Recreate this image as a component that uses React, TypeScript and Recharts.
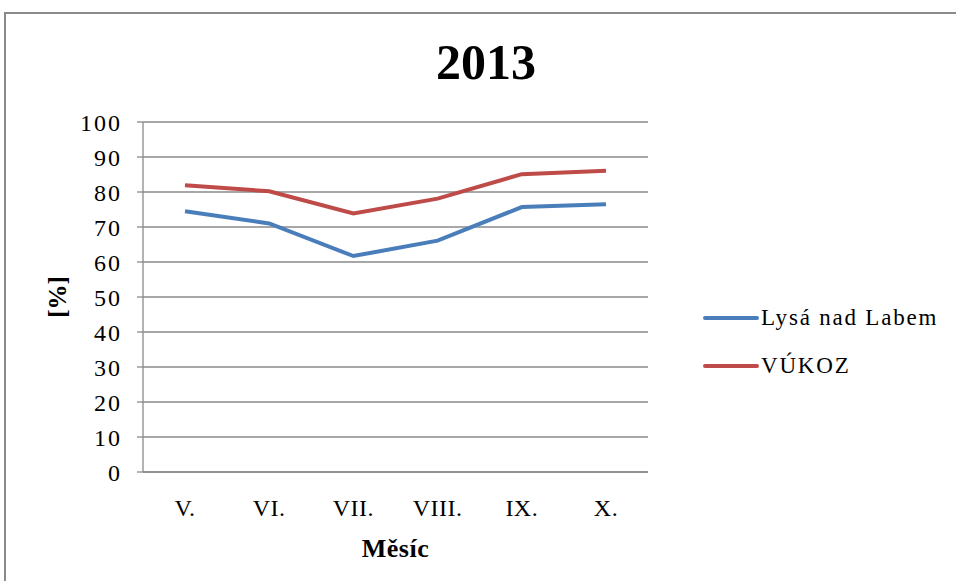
import { LineChart, Line, XAxis, YAxis, CartesianGrid, Label } from "recharts";

const months = ["V.", "VI.", "VII.", "VIII.", "IX.", "X."];
const lysa = [74.5, 71.0, 61.7, 66.1, 75.7, 76.5];
const vukoz = [81.9, 80.2, 73.9, 78.1, 85.1, 86.1];
const yTicks = [0, 10, 20, 30, 40, 50, 60, 70, 80, 90, 100];

const series = [
  { key: "lysa", name: "Lysá nad Labem", color: "#4A7EBB" },
  { key: "vukoz", name: "VÚKOZ", color: "#BE4B48" },
];

const data = months.map((m, i) => ({ month: m, lysa: lysa[i], vukoz: vukoz[i] }));

const FONT = "'Liberation Serif', 'Times New Roman', serif";

export default function App() {
  return (
    <div style={{ position: "absolute", left: 0, top: 0, width: 956, height: 581, background: "#fff", overflow: "hidden" }}>
      <div style={{ position: "absolute", left: 4, top: 12, width: 980, height: 600, border: "2px solid #8a8a8a", boxSizing: "border-box" }} />
      <div style={{ position: "absolute", left: 0, top: 30, width: 972, textAlign: "center", fontFamily: FONT, fontWeight: "bold", fontSize: 50, lineHeight: "64px" }}>
        2013
      </div>
      <LineChart width={956} height={581} data={data} margin={{ top: 122, right: 308, left: 83, bottom: 79 }} style={{ position: "absolute", left: 0, top: 0 }}>
        <CartesianGrid vertical={false} stroke="#8a8a8a" strokeWidth={1.3} />
        <XAxis
          dataKey="month"
          padding={{ left: 42, right: 42 }}
          tickLine={false}
          axisLine={{ stroke: "#8a8a8a", strokeWidth: 1.3 }}
          tick={{ fill: "#000", fontSize: 24, fontFamily: FONT, letterSpacing: 0.5 }}
          tickMargin={21}
          height={30}
        >
          <Label value="Měsíc" position="bottom" offset={37} style={{ fill: "#000", fontSize: 26, fontWeight: "bold", fontFamily: FONT, letterSpacing: 0.5 }} />
        </XAxis>
        <YAxis
          domain={[0, 100]}
          ticks={yTicks}
          width={60}
          tickSize={6}
          tickMargin={15}
          tickLine={{ stroke: "#8a8a8a", strokeWidth: 1.3 }}
          axisLine={{ stroke: "#8a8a8a", strokeWidth: 1.3 }}
          tick={{ fill: "#000", fontSize: 24, fontFamily: FONT, letterSpacing: 2 }}
          interval={0}
        >
          <Label value="[%]" angle={-90} position="insideLeft" offset={-26} style={{ fill: "#000", fontSize: 25, fontWeight: "bold", fontFamily: FONT, textAnchor: "middle" }} />
        </YAxis>
        {series.map((s) => (
          <Line key={s.key} name={s.name} dataKey={s.key} stroke={s.color} strokeWidth={4} dot={false} isAnimationActive={false} />
        ))}
      </LineChart>
      <div style={{ position: "absolute", left: 701, top: 294, width: 255, fontFamily: FONT }}>
        {series.map((s) => (
          <div key={s.key} style={{ display: "flex", alignItems: "center", height: 48 }}>
            <svg width={58} height={10}>
              <line x1={4} y1={5} x2={56} y2={5} stroke={s.color} strokeWidth={4} strokeLinecap="round" />
            </svg>
            <span style={{ fontSize: 23, color: "#000", letterSpacing: 1.8, marginLeft: 2 }}>{s.name}</span>
          </div>
        ))}
      </div>
    </div>
  );
}
